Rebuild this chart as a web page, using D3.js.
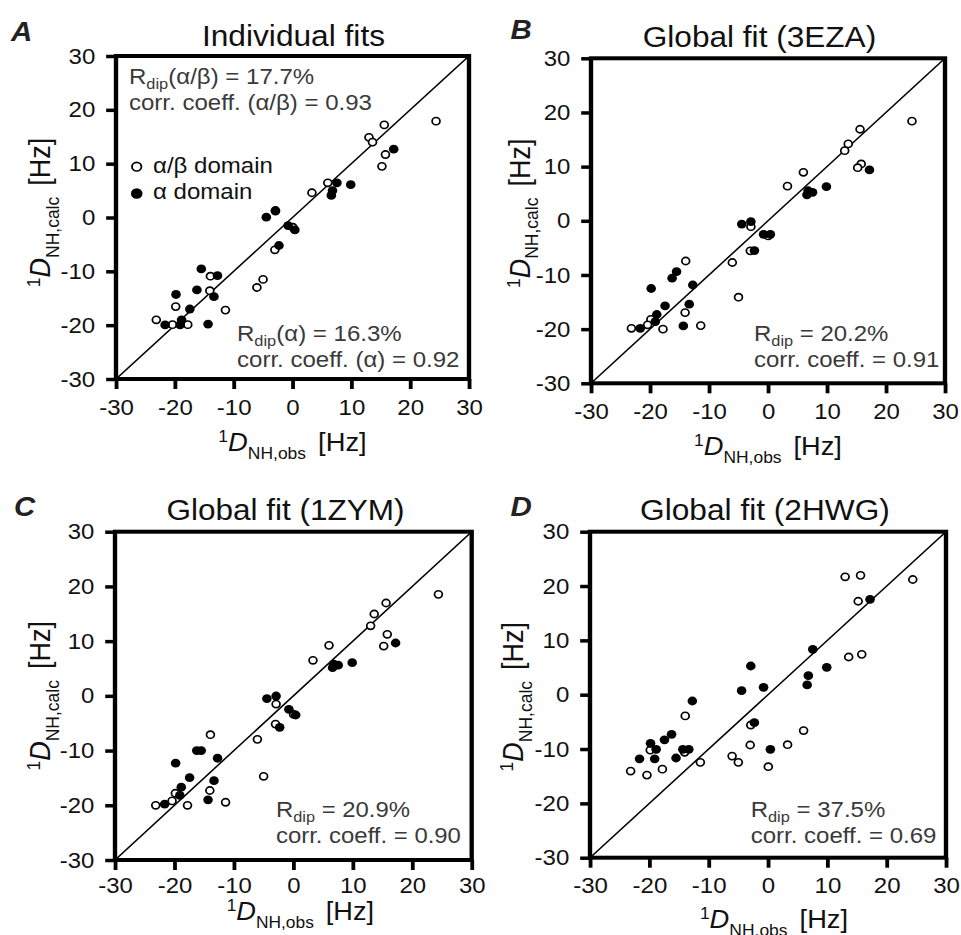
<!DOCTYPE html>
<html><head><meta charset="utf-8">
<script src="https://cdn.jsdelivr.net/npm/d3@7"></script>
<style>
body{margin:0;background:#fff}
svg{display:block}
text{font-family:"Liberation Sans",Arial,Helvetica,sans-serif}
</style>
</head><body>
<svg id="chart" width="961" height="935"></svg>
<script>
// ---------------- DATA ----------------
const tickValues = [-30, -20, -10, 0, 10, 20, 30];
const axisDomain = [-30, 30];

// observed 1D_NH couplings (shared by all panels)
const obsAlphaBeta = [24.4, 15.6, 13.0, 13.6, 15.8, 15.2, 6.0, 3.3, -2.9, -3.0, 0.05, -6.05, -5.0, -13.95, -14.05, -11.4, -17.8, -19.85, -20.4, -23.15];
const obsAlpha = [17.2, 9.9, 7.55, 6.8, 6.6, -2.9, -4.45, -0.75, 0.4, -2.3, -15.5, -12.75, -16.25, -13.35, -19.8, -17.45, -18.85, -19.1, -14.35, -21.65];

// calculated couplings, per panel
const calcAlphaBetaA = [17.9, 17.2, 14.9, 14.0, 11.7, 9.5, 6.45, 4.6, 1.2, -6.0, -1.8, -13.0, -11.5, -10.9, -13.6, -17.2, -19.9, -16.55, -19.9, -19.0];
const calcAlphaA = [12.7, 6.1, 6.45, 5.0, 4.1, 1.3, 0.06, -1.5, -2.3, -5.2, -9.55, -10.8, -13.45, -14.7, -14.3, -17.0, -19.0, -19.96, -19.8, -19.96];

const calcAlphaBetaB = [18.4, 16.9, 12.95, 14.2, 10.5, 9.8, 8.95, 6.4, -1.08, -5.55, -2.8, -7.7, -14.1, -7.42, -16.95, -19.35, -20.0, -18.2, -19.2, -19.85];
const calcAlphaB = [9.4, 6.3, 5.25, 5.55, 4.8, -0.16, -0.6, -2.5, -2.5, -5.5, -9.4, -11.85, -10.6, -15.4, -12.5, -15.7, -17.3, -18.6, -19.4, -19.85];

const calcAlphaBetaC = [18.55, 16.97, 12.8, 14.96, 11.25, 9.1, 9.23, 6.5, -1.5, -5.15, -3.4, -7.95, -14.7, -7.1, -17.3, -19.45, -20.0, -17.8, -19.2, -20.0];
const calcAlphaC = [9.66, 6.07, 5.6, 5.8, 5.15, -0.03, -0.5, -2.46, -3.5, -5.75, -10.0, -11.4, -10.0, -15.5, -12.3, -14.95, -16.7, -18.2, -19.0, -19.8];

const calcAlphaBetaD = [21.2, 21.97, 21.7, 6.94, 7.43, 17.2, -6.6, -9.2, -5.58, -9.26, -13.25, -11.3, -12.45, -3.9, -10.6, -12.45, -13.7, -10.2, -14.8, -14.05];
const calcAlphaD = [17.56, 5.04, 8.35, 3.5, 1.8, 5.28, 0.74, 1.36, -10.05, -5.15, -11.65, -1.16, -7.3, -10.05, -8.95, -8.3, -10.05, -11.8, -10.05, -11.8];

const panelLetters = ["A", "B", "C", "D"];
const panelTitles = ["Individual fits", "Global fit (3EZA)", "Global fit (1ZYM)", "Global fit (2HWG)"];
const legendLabels = ["\u03B1/\u03B2 domain", "\u03B1 domain"];
// statistics text: [prefix, subscript, rest]
const statsA1 = [["R", "dip", "(\u03B1/\u03B2) = 17.7%"], ["corr. coeff. (\u03B1/\u03B2) = 0.93"]];
const statsA2 = [["R", "dip", "(\u03B1) = 16.3%"], ["corr. coeff. (\u03B1) = 0.92"]];
const statsB = [["R", "dip", " = 20.2%"], ["corr. coeff. = 0.91"]];
const statsC = [["R", "dip", " = 20.9%"], ["corr. coeff. = 0.90"]];
const statsD = [["R", "dip", " = 37.5%"], ["corr. coeff. = 0.69"]];

// ---------------- LAYOUT ----------------
const panels = [
  { letter: panelLetters[0], title: panelTitles[0], open: calcAlphaBetaA, filled: calcAlphaA,
    left: 116, top: 56, w: 353, h: 323, letterPos: [11, 41], titleDx: 1, titleY: -10,
    yLabX: -66, yLabDy: -5, xLabDx: 0, xLabY: 72, xPad: 10,
    stats: [{ lines: statsA1, x: 13, y: 28 }, { lines: statsA2, x: 121, y: 285 }], legend: true },
  { letter: panelLetters[1], title: panelTitles[1], open: calcAlphaBetaB, filled: calcAlphaB,
    left: 591, top: 58.3, w: 354, h: 325, letterPos: [510.5, 39], titleDx: -8.5, titleY: -11.6,
    yLabX: -61.5, yLabDy: -7.5, xLabDx: 0, xLabY: 72, xPad: 10,
    stats: [{ lines: statsB, x: 163, y: 282.7 }], legend: false },
  { letter: panelLetters[2], title: panelTitles[2], open: calcAlphaBetaC, filled: calcAlphaC,
    left: 115, top: 531.7, w: 356.7, h: 328.3, letterPos: [14, 516], titleDx: -7.8, titleY: -11.7,
    yLabX: -65, yLabDy: 0, xLabDx: 7, xLabY: 60, xPad: 7,
    stats: [{ lines: statsC, x: 161, y: 285 }], legend: false },
  { letter: panelLetters[3], title: panelTitles[3], open: calcAlphaBetaD, filled: calcAlphaD,
    left: 590, top: 531.7, w: 356, h: 326, letterPos: [510.5, 516], titleDx: -3, titleY: -11.7,
    yLabX: -66.7, yLabDy: 2, xLabDx: 6, xLabY: 70, xPad: 10,
    stats: [{ lines: statsD, x: 160.7, y: 285 }], legend: false }
];

const svg = d3.select("#chart");
const statColor = "#3a3a3a";

function addLabel(textSel, sub, big, small) {
  textSel.append("tspan").attr("font-size", small).attr("dy", -9).text("1");
  textSel.append("tspan").attr("font-size", big).attr("font-style", "italic").attr("dy", 9).text("D");
  textSel.append("tspan").attr("font-size", small).attr("dy", 8).text(sub);
  textSel.append("tspan").attr("font-size", big).attr("dy", -8).attr("dx", 11).text("[Hz]");
}

panels.forEach(p => {
  const sx = p.w / p.h;
  const S = p.h;
  const g = svg.append("g").attr("transform", `translate(${p.left},${p.top}) scale(${sx},1)`);
  const x = d3.scaleLinear().domain(axisDomain).range([0, S]);
  const y = d3.scaleLinear().domain(axisDomain).range([S, 0]);

  const cid = "clip" + p.letter;
  g.append("clipPath").attr("id", cid).append("rect").attr("width", S).attr("height", S);

  // diagonal y = x
  g.append("line").attr("clip-path", `url(#${cid})`)
    .attr("x1", x(axisDomain[0])).attr("y1", y(axisDomain[0]))
    .attr("x2", x(axisDomain[1])).attr("y2", y(axisDomain[1]))
    .attr("stroke", "#000").attr("stroke-width", 1.5);

  // axes
  const fmt = d => String(d);
  const xa = g.append("g").attr("transform", `translate(0,${S})`)
    .call(d3.axisBottom(x).tickValues(tickValues).tickSize(10).tickPadding(p.xPad).tickFormat(fmt));
  const ya = g.append("g")
    .call(d3.axisLeft(y).tickValues(tickValues).tickSize(9).tickPadding(10).tickFormat(fmt));
  [xa, ya].forEach(a => {
    a.select(".domain").remove();
    a.selectAll(".tick line").attr("stroke", "#000").attr("stroke-width", 3.5);
    a.selectAll(".tick text").attr("font-size", 22).attr("fill", "#111")
      .style("font-family", '"Liberation Sans",Arial,sans-serif');
  });

  // frame
  g.append("rect").attr("width", S).attr("height", S)
    .attr("fill", "none").attr("stroke", "#000").attr("stroke-width", 4);

  // points
  const pts = g.append("g").attr("clip-path", `url(#${cid})`);
  pts.selectAll("circle.open").data(obsAlphaBeta.map((o, i) => [o, p.open[i]]))
    .join("circle").attr("class", "open")
    .attr("cx", d => x(d[0])).attr("cy", d => y(d[1])).attr("r", 3.6)
    .attr("fill", "#fff").attr("stroke", "#000").attr("stroke-width", 1.6);
  pts.selectAll("circle.filled").data(obsAlpha.map((o, i) => [o, p.filled[i]]))
    .join("circle").attr("class", "filled")
    .attr("cx", d => x(d[0])).attr("cy", d => y(d[1])).attr("r", 4.4)
    .attr("fill", "#000");

  // title
  g.append("text").attr("x", S / 2 + p.titleDx / sx).attr("y", p.titleY)
    .attr("text-anchor", "middle").attr("font-size", 29).attr("fill", "#111").text(p.title);

  // panel letter
  g.append("text").attr("x", (p.letterPos[0] - p.left) / sx).attr("y", p.letterPos[1] - p.top)
    .attr("font-size", 27).attr("font-weight", "bold").attr("font-style", "italic")
    .attr("fill", "#222").text(p.letter);

  // x label
  const xl = g.append("text").attr("x", S / 2 + p.xLabDx / sx).attr("y", S + p.xLabY)
    .attr("text-anchor", "middle").attr("fill", "#111");
  addLabel(xl, "NH,obs", 25, 16);

  // y label
  const yl = g.append("text")
    .attr("transform", `translate(${p.yLabX / sx},${S / 2 + p.yLabDy}) rotate(-90)`)
    .attr("text-anchor", "middle").attr("fill", "#111");
  addLabel(yl, "NH,calc", 27, 17.5);

  // stats
  p.stats.forEach(st => {
    st.lines.forEach((ln, i) => {
      const t = g.append("text").attr("x", st.x / sx).attr("y", st.y + i * 26.5)
        .attr("font-size", 22).attr("fill", statColor);
      if (ln.length === 3) {
        t.append("tspan").text(ln[0]);
        t.append("tspan").attr("font-size", 15).attr("dy", 5).text(ln[1]);
        t.append("tspan").attr("dy", -5).text(ln[2]);
      } else {
        t.text(ln[0]);
      }
    });
  });

  // legend
  if (p.legend) {
    const lg = g.append("g");
    const lx = (136.7 - p.left) / sx, tx = (153 - p.left) / sx;
    [[166.7, 173.5, true], [193.5, 199.5, false]].forEach((r, i) => {
      const c = lg.append("circle").attr("cx", lx).attr("cy", r[0] - p.top);
      if (r[2]) c.attr("r", 4.3).attr("fill", "#fff").attr("stroke", "#000").attr("stroke-width", 1.7);
      else c.attr("r", 5.3).attr("fill", "#000");
      lg.append("text").attr("x", tx).attr("y", r[1] - p.top).attr("font-size", 22)
        .attr("fill", "#111").text(legendLabels[i]);
    });
  }
});
</script>
</body></html>
